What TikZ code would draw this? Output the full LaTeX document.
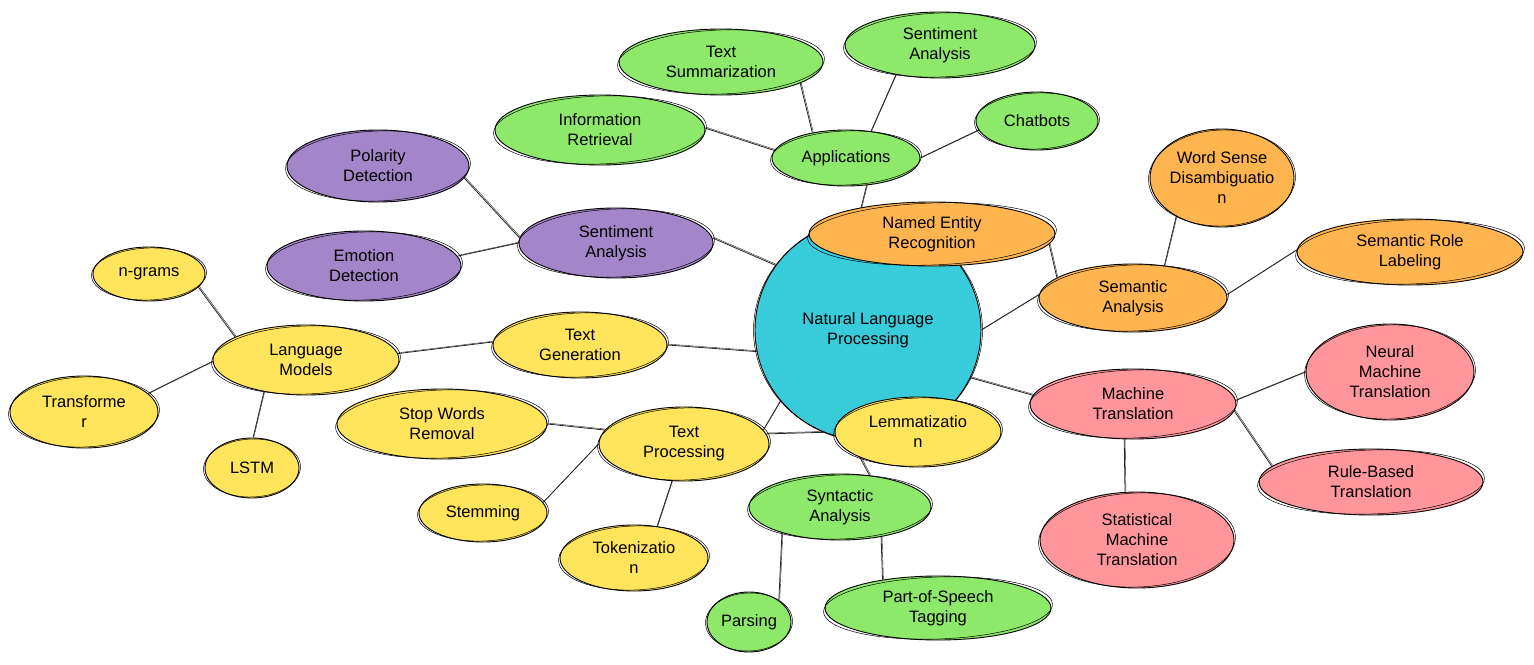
\documentclass[tikz,border=0pt]{standalone}
\usepackage{fontspec}
\setmainfont{Liberation Sans}
\usetikzlibrary{shapes.geometric,calc,backgrounds}
\definecolor{cgreen}{HTML}{8EE86A}
\definecolor{cyellow}{HTML}{FFE45C}
\definecolor{corange}{HTML}{FFB54F}
\definecolor{cpurple}{HTML}{A385C9}
\definecolor{cpink}{HTML}{FF969C}
\definecolor{ccyan}{HTML}{38CCDB}
\tikzset{
  bubble/.style={ellipse, draw=black, line width=0.9pt, inner sep=0pt},
  btext/.style={align=center, font=\fontsize{16.5}{20}\selectfont, text=black, inner sep=0pt},
  link/.style={draw=black!85, line width=0.8pt,
    postaction={draw, line width=0.4pt, transform canvas={shift={(0.9pt,0.9pt)}}}},
}
\newcommand\bub[7]{%
  \node[bubble, fill=#6, minimum width=#4pt, minimum height=#5pt] (#1) at (#2,#3) {};
  \draw[line width=0.5pt, rotate around={2:(#1.center)}] (#1.center) ellipse [x radius={#4/2+1.5}, y radius={#5/2-1}];
  \node[btext] (#1-t) at (#1.center) {#7};
}
\begin{document}
\begin{tikzpicture}[x=1pt,y=-1pt]
\useasboundingbox (0,0) rectangle (1534,664);
\begin{pgfonlayer}{background}
  \fill[white] (0,0) rectangle (1534,664);
\end{pgfonlayer}
% central
\bub{nlp}{868}{330}{226}{222}{ccyan}{Natural Language\\Processing}
% applications
\bub{app}{846}{158}{148}{56}{cgreen}{Applications}
\bub{ts}{721}{62}{204}{66}{cgreen}{Text\\Summarization}
\bub{sa1}{940}{45}{190}{66}{cgreen}{Sentiment\\Analysis}
\bub{ir}{600}{130}{210}{70}{cgreen}{Information\\Retrieval}
\bub{cb}{1037}{121}{122}{58}{cgreen}{Chatbots}
% semantic
\bub{ner}{932}{234}{246}{64}{corange}{Named Entity\\Recognition}
\bub{wsd}{1222}{178}{144}{98}{corange}{Word Sense\\Disambiguatio\\n}
\bub{srl}{1410}{252}{226}{66}{corange}{Semantic Role\\Labeling}
\bub{sem}{1133}{298}{188}{68}{corange}{Semantic\\Analysis}
% machine translation
\bub{nmt}{1390}{372}{168}{96}{cpink}{Neural\\Machine\\Translation}
\bub{mt}{1133}{404}{206}{70}{cpink}{Machine\\Translation}
\bub{rbt}{1371}{482}{224}{66}{cpink}{Rule-Based\\Translation}
\bub{smt}{1137}{540}{194}{96}{cpink}{Statistical\\Machine\\Translation}
% syntactic
\bub{lem}{918}{432}{166}{70}{cyellow}{Lemmatizatio\\n}
\bub{syn}{840}{507}{182}{66}{cgreen}{Syntactic\\Analysis}
\bub{par}{749}{622}{84}{60}{cgreen}{Parsing}
\bub{pos}{938}{608}{226}{64}{cgreen}{Part-of-Speech\\Tagging}
% text processing
\bub{tp}{684}{444}{170}{74}{cyellow}{Text\\Processing}
\bub{sw}{442}{424}{210}{70}{cyellow}{Stop Words\\Removal}
\bub{st}{483}{513}{128}{58}{cyellow}{Stemming}
\bub{tok}{634}{558}{148}{66}{cyellow}{Tokenizatio\\n}
% generation
\bub{tg}{580}{345}{174}{66}{cyellow}{Text\\Generation}
\bub{lm}{306}{360}{186}{70}{cyellow}{Language\\Models}
\bub{ng}{149}{274}{112}{54}{cyellow}{n-grams}
\bub{tr}{84}{412}{148}{72}{cyellow}{Transforme\\r}
\bub{lstm}{252}{468}{94}{60}{cyellow}{LSTM}
% sentiment
\bub{sa2}{616}{243}{194}{70}{cpurple}{Sentiment\\Analysis}
\bub{pol}{378}{166}{182}{72}{cpurple}{Polarity\\Detection}
\bub{emo}{364}{266}{194}{70}{cpurple}{Emotion\\Detection}
\begin{pgfonlayer}{background}
  \foreach \a/\aa/\b/\bb in {
      app/-53/nlp/95, app/143/ts/-15, app/47/sa1/-146, app/174/ir/1, app/0/cb/-171,
      nlp/145/sa2/3, sa2/177/pol/-8, sa2/180/emo/6,
      ner/-5/sem/165, nlp/0/sem/178, sem/46/wsd/-140, sem/2/srl/179,
      nlp/-25/mt/175, mt/2/nmt/180, mt/-4/rbt/171, mt/-104/smt/104,
      nlp/-169/tg/0, tg/178/lm/4, lm/162/ng/-15, lm/-179/tr/16, lm/-143/lstm/88,
      nlp/-141/tp/10, tp/170/sw/0, tp/180/st/10, tp/-108/tok/54, tp/7/lem/180,
      nlp/-99/syn/47, syn/-156/par/36, syn/-36/pos/153}
    \draw[link] (\a.\aa) -- (\b.\bb);
\end{pgfonlayer}
\end{tikzpicture}
\end{document}
